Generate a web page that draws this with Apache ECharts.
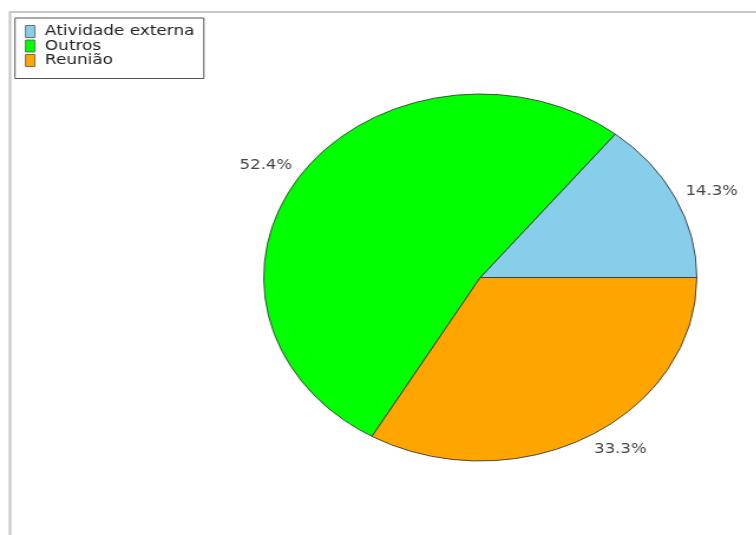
<!DOCTYPE html>
<html>
<head>
<meta charset="utf-8">
<script src="https://cdn.jsdelivr.net/npm/echarts@6/dist/echarts.min.js"></script>
<style>
  html, body { margin: 0; padding: 0; background: #fff; overflow: hidden; }
  #wrap { width: 756px; height: 535px; overflow: hidden; }
  #chart { width: 641px; height: 535px; transform: scaleX(1.18); transform-origin: 0 0; }
</style>
</head>
<body>
<div id="wrap"><div id="chart"></div></div>
<script>
const categories = ['Atividade externa', 'Outros', 'Reunião'];
const counts = [3, 11, 7];
const colors = ['#87CEEB', '#00FF00', '#FFA500'];

const CX = 407, CY = 277.5, R = 183.5;
const total = counts.reduce((a, b) => a + b, 0);
const midAngles = [];
let acc = 0;
counts.forEach(v => { midAngles.push((acc + v / 2) / total * 2 * Math.PI); acc += v; });

const chart = echarts.init(document.getElementById('chart'));
chart.setOption({
  animation: false,
  color: colors,
  textStyle: { fontFamily: 'DejaVu Sans' },
  graphic: [
    { type: 'line', shape: { x1: 8.5, y1: 12, x2: 641, y2: 12 }, style: { stroke: '#c8c8c8', lineWidth: 2 } },
    { type: 'line', shape: { x1: 8.5, y1: 11, x2: 8.5, y2: 535 }, style: { stroke: '#c8c8c8', lineWidth: 2.2 } }
  ],
  legend: {
    orient: 'vertical',
    left: 12.7,
    top: 18,
    data: categories,
    icon: 'rect',
    itemWidth: 8,
    itemHeight: 12,
    itemGap: 0.5,
    padding: [6.5, 8, 11, 8.5],
    backgroundColor: '#fff',
    borderColor: '#555',
    borderWidth: 1,
    borderRadius: 0,
    selectedMode: false,
    itemStyle: { borderColor: '#555', borderWidth: 0.8 },
    textStyle: { fontFamily: 'DejaVu Sans', fontSize: 14.3, color: '#222', lineHeight: 14, padding: [0, 0, 0, 3.5] }
  },
  series: [{
    type: 'pie',
    center: [CX, CY],
    radius: [0, R],
    startAngle: 0,
    clockwise: false,
    percentPrecision: 1,
    avoidLabelOverlap: false,
    silent: true,
    emphasis: { disabled: true },
    itemStyle: { borderColor: '#3a3a3a', borderWidth: 0.9 },
    label: {
      show: true,
      position: 'outside',
      formatter: '{d}%',
      fontFamily: 'DejaVu Sans',
      fontSize: 14,
      color: '#444'
    },
    labelLine: { show: false },
    labelLayout: function (p) {
      const a = midAngles[p.dataIndex];
      const c = Math.cos(a);
      return {
        x: CX + 193 * c,
        y: CY - 199 * Math.sin(a),
        align: c >= 0 ? 'left' : 'right',
        verticalAlign: 'middle'
      };
    },
    data: categories.map((n, i) => ({ name: n, value: counts[i] }))
  }]
});
</script>
</body>
</html>
